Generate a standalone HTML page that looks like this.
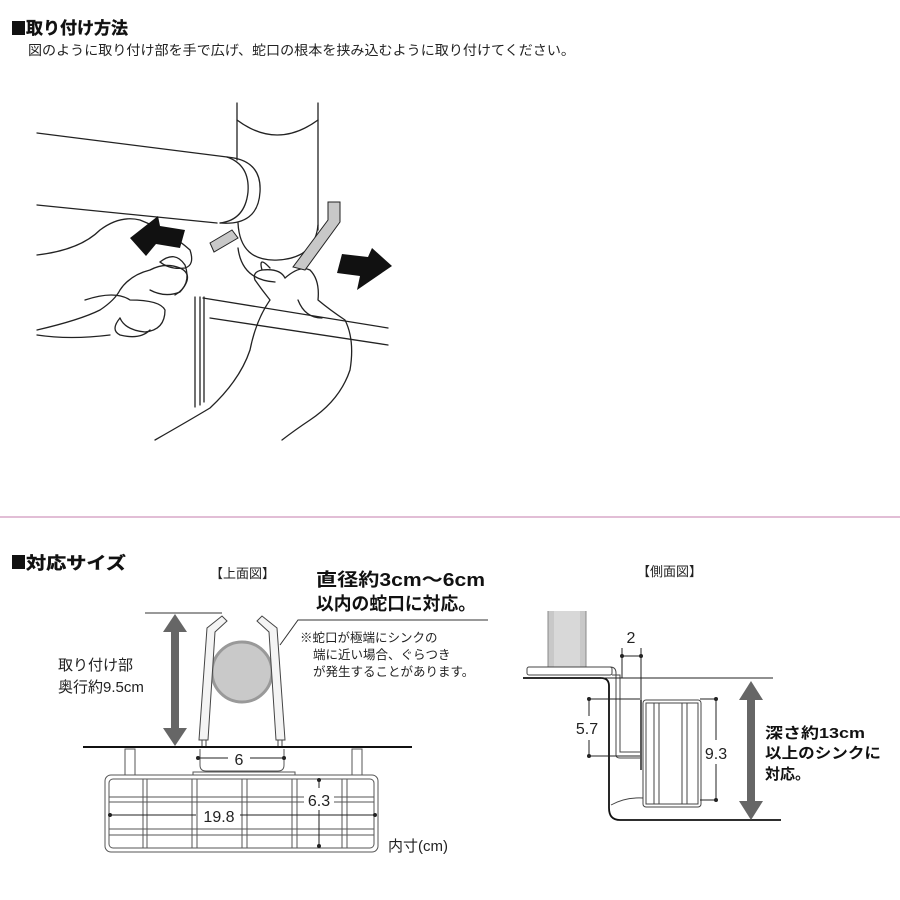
<!DOCTYPE html>
<html><head><meta charset="utf-8"><style>
html,body{margin:0;padding:0;background:#fff;}
svg{display:block;font-family:"Liberation Sans","Noto Sans CJK JP",sans-serif;}
</style></head><body>
<svg width="900" height="900" viewBox="0 0 900 900" xmlns="http://www.w3.org/2000/svg">
<rect width="900" height="900" fill="#fff"/>
<!-- Header -->
<rect x="12" y="21" width="13" height="14" fill="#111"/>
<text x="26" y="34" font-size="17" font-weight="bold" fill="#111" stroke="#111" stroke-width="0.4" textLength="102" lengthAdjust="spacingAndGlyphs">取り付け方法</text>
<text x="28" y="55" font-size="13.5" fill="#222" textLength="547" lengthAdjust="spacingAndGlyphs">図のように取り付け部を手で広げ、蛇口の根本を挟み込むように取り付けてください。</text>

<!-- Illustration -->
<g fill="none" stroke="#222" stroke-width="1.3" stroke-linecap="round" stroke-linejoin="round">
  <path d="M237 103 L237 160 M318 103 L318 230"/>
  <path d="M237 120 Q277 150 318 120"/>
  <path d="M37 133 L227 157"/>
  <path d="M37 205 L217 223"/>
  <path d="M227 157 Q262 160 260 192 Q258 226 220 223"/>
  <path d="M227 157 Q250 165 248 192 Q245 220 220 223"/>
  <path d="M238 223 Q240 262 278 260 Q315 258 318 225"/>
  <path d="M238 248 Q242 280 275 282"/>
  <path d="M203 298 L388 328"/>
  <path d="M210 318 L388 345"/>
  <path d="M195 297 L195 407 M200 297 L200 405 M204 297 L204 402"/>
  <path d="M37 255 Q80 250 100 230 Q120 215 140 220 Q170 232 190 250 Q195 265 185 268 Q170 270 160 262"/>
  <path d="M37 330 Q80 320 100 310 Q115 300 120 290 Q130 275 150 270 Q165 262 180 268 Q195 275 180 292 Q165 298 150 290"/>
  <path d="M85 300 Q115 290 130 300 Q160 300 165 310 Q165 330 145 332 Q125 330 120 318"/>
  <path d="M120 318 Q110 330 120 335 Q140 340 150 330"/>
  <path d="M160 262 Q175 250 185 265 Q192 285 175 295"/>
  <path d="M37 335 Q70 340 110 335"/>
  <path d="M155 440 Q190 420 210 408 Q240 380 250 350 Q256 320 270 300 Q262 290 255 280 Q252 272 262 270 Q280 268 285 278"/>
  <path d="M285 278 Q300 265 310 270 Q320 280 318 300 Q330 310 345 320 Q355 340 350 370 Q340 400 310 420 Q295 430 282 440"/>
  <path d="M298 300 Q305 318 322 318"/>
  <path d="M262 270 Q258 255 270 268"/>
</g>
<polygon points="210,243 232,230 238,238 214,252" fill="#c8c8c8" stroke="#222" stroke-width="1"/>
<polygon points="328,202 340,202 340,222 305,270 293,267 328,220" fill="#c8c8c8" stroke="#222" stroke-width="1"/>
<polygon points="130,238 158,216 160,226 185,230 180,248 156,244 146,256" fill="#111"/>
<polygon points="392,266 372,248 368,257 342,254 337,273 360,276 357,290" fill="#111"/>

<line x1="0" y1="517" x2="900" y2="517" stroke="#d8a8c8" stroke-width="1.5"/>

<!-- Section 2 -->
<rect x="12" y="555" width="13" height="14" fill="#111"/>
<text x="26" y="569" font-size="17" font-weight="bold" fill="#111" stroke="#111" stroke-width="0.4" textLength="100" lengthAdjust="spacingAndGlyphs">対応サイズ</text>
<text x="210" y="578" font-size="13" fill="#222">【上面図】</text>
<text x="316" y="586" font-size="18" font-weight="bold" fill="#111" textLength="169" lengthAdjust="spacingAndGlyphs">直径約3cm〜6cm</text>
<text x="316" y="610" font-size="18" font-weight="bold" fill="#111" textLength="160" lengthAdjust="spacingAndGlyphs">以内の蛇口に対応。</text>
<text x="300" y="642" font-size="12.5" fill="#222">※蛇口が極端にシンクの</text>
<text x="313" y="659" font-size="12.5" fill="#222">端に近い場合、ぐらつき</text>
<text x="313" y="676" font-size="12.5" fill="#222">が発生することがあります。</text>
<text x="58" y="670" font-size="15" fill="#222">取り付け部</text>
<text x="58" y="692" font-size="15" fill="#222">奥行約9.5cm</text>

<g stroke="#333" fill="none" stroke-width="1">
  <line x1="145" y1="613" x2="222" y2="613"/>
  <path d="M280 645 L298 620 L488 620"/>
</g>
<g fill="#666">
  <rect x="171" y="628" width="8" height="104"/>
  <polygon points="175,614 187,632 163,632"/>
  <polygon points="175,746 187,728 163,728"/>
</g>
<circle cx="242" cy="672" r="30" fill="#c9c9c9" stroke="#999" stroke-width="3"/>
<g fill="#f4f4f4" stroke="#444" stroke-width="1">
  <polygon points="199,740 207,628 222,616 227,621 215,632 208,740"/>
  <polygon points="285,740 277,628 262,616 257,621 269,632 276,740"/>
</g>
<g stroke="#444" fill="none" stroke-width="1">
  <line x1="202" y1="740" x2="202" y2="748"/><line x1="206" y1="740" x2="206" y2="748"/>
  <line x1="278" y1="740" x2="278" y2="748"/><line x1="282" y1="740" x2="282" y2="748"/>
</g>
<line x1="83" y1="747" x2="412" y2="747" stroke="#111" stroke-width="2"/>
<g fill="#fff" stroke="#555" stroke-width="1">
  <rect x="125" y="749" width="10" height="46"/>
  <rect x="352" y="749" width="10" height="46"/>
  <path d="M200 749 L200 765 Q200 771 206 771 L278 771 Q284 771 284 765 L284 749"/>
  <rect x="193" y="772" width="102" height="4"/>
  <rect x="105" y="775" width="273" height="77" rx="6"/>
  <rect x="109" y="779" width="265" height="69" rx="4"/>
</g>
<g stroke="#555" stroke-width="1" fill="none">
  <line x1="109" y1="797" x2="374" y2="797"/><line x1="109" y1="802" x2="374" y2="802"/>
  <line x1="109" y1="829" x2="374" y2="829"/><line x1="109" y1="835" x2="374" y2="835"/>
  <line x1="143" y1="779" x2="143" y2="848"/><line x1="147" y1="779" x2="147" y2="848"/>
  <line x1="192" y1="779" x2="192" y2="848"/><line x1="197" y1="779" x2="197" y2="848"/>
  <line x1="242" y1="779" x2="242" y2="848"/><line x1="247" y1="779" x2="247" y2="848"/>
  <line x1="292" y1="779" x2="292" y2="848"/><line x1="297" y1="779" x2="297" y2="848"/>
  <line x1="342" y1="779" x2="342" y2="848"/><line x1="347" y1="779" x2="347" y2="848"/>
</g>
<rect x="222" y="750" width="32" height="16" fill="#fff"/>
<g stroke="#222" stroke-width="1">
  <line x1="198" y1="758" x2="228" y2="758"/><line x1="250" y1="758" x2="284" y2="758"/>
  <line x1="110" y1="815" x2="196" y2="815"/><line x1="240" y1="815" x2="375" y2="815"/>
  <line x1="319" y1="780" x2="319" y2="788"/><line x1="319" y1="810" x2="319" y2="846"/>
</g>
<rect x="198" y="806" width="42" height="18" fill="#fff"/>
<rect x="304" y="790" width="30" height="18" fill="#fff"/>
<g fill="#222"><circle cx="198" cy="758" r="2"/><circle cx="284" cy="758" r="2"/>
<circle cx="110" cy="815" r="2"/><circle cx="375" cy="815" r="2"/>
<circle cx="319" cy="780" r="2"/><circle cx="319" cy="846" r="2"/></g>
<text x="239" y="765" font-size="16" fill="#222" text-anchor="middle">6</text>
<text x="219" y="822" font-size="16" fill="#222" text-anchor="middle">19.8</text>
<text x="319" y="806" font-size="16" fill="#222" text-anchor="middle">6.3</text>
<text x="388" y="851" font-size="15" fill="#222">内寸(cm)</text>

<!-- Side view -->
<text x="637" y="576" font-size="13" fill="#222">【側面図】</text>
<rect x="548" y="611" width="38" height="56" fill="#c8c8c8"/>
<rect x="554" y="611" width="26" height="56" fill="#d8d8d8"/>
<line x1="548" y1="611" x2="548" y2="667" stroke="#888"/><line x1="586" y1="611" x2="586" y2="667" stroke="#888"/>
<rect x="527" y="667" width="85" height="8" rx="2" fill="#fff" stroke="#444" stroke-width="1"/>
<g fill="none" stroke="#444" stroke-width="1">
  <path d="M610 667 Q616 667 616 673 L616 755 Q616 758 620 758 L640 758"/>
  <path d="M612 675 L620 675 L620 752 L640 752"/>
  <rect x="643" y="700" width="58" height="107" rx="3"/>
  <rect x="646" y="703" width="52" height="101"/>
  <line x1="654" y1="703" x2="654" y2="804"/><line x1="659" y1="703" x2="659" y2="804"/>
  <line x1="682" y1="703" x2="682" y2="804"/><line x1="687" y1="703" x2="687" y2="804"/>
  <path d="M611 805 Q625 797 643 798"/>
</g>
<line x1="641" y1="700" x2="641" y2="770" stroke="#222" stroke-width="1.5"/>
<path d="M523 678 L601 678 Q609 678 609 686 L609 808 Q609 820 620 820 L781 820" fill="none" stroke="#111" stroke-width="1.8"/>
<line x1="601" y1="678" x2="773" y2="678" stroke="#222" stroke-width="1"/>
<g stroke="#222" stroke-width="1" fill="none">
  <line x1="622" y1="648" x2="622" y2="678"/><line x1="641" y1="648" x2="641" y2="700"/>
  <line x1="622" y1="656" x2="641" y2="656"/>
  <line x1="589" y1="699" x2="640" y2="699"/><line x1="589" y1="756" x2="640" y2="756"/>
  <line x1="589" y1="699" x2="589" y2="716"/><line x1="589" y1="740" x2="589" y2="756"/>
  <line x1="700" y1="699" x2="717" y2="699"/><line x1="700" y1="800" x2="717" y2="800"/>
  <line x1="716" y1="699" x2="716" y2="740"/><line x1="716" y1="764" x2="716" y2="800"/>
</g>
<g fill="#222"><circle cx="622" cy="656" r="2"/><circle cx="641" cy="656" r="2"/>
<circle cx="589" cy="699" r="2"/><circle cx="589" cy="756" r="2"/>
<circle cx="716" cy="699" r="2"/><circle cx="716" cy="800" r="2"/></g>
<text x="631" y="643" font-size="16" fill="#222" text-anchor="middle">2</text>
<text x="587" y="734" font-size="16" fill="#222" text-anchor="middle">5.7</text>
<text x="716" y="759" font-size="16" fill="#222" text-anchor="middle">9.3</text>
<g fill="#666">
  <rect x="747" y="696" width="8" height="108"/>
  <polygon points="751,681 763,700 739,700"/>
  <polygon points="751,820 763,801 739,801"/>
</g>
<text x="765" y="738" font-size="15" font-weight="bold" fill="#111" textLength="100" lengthAdjust="spacingAndGlyphs">深さ約13cm</text>
<text x="765" y="758" font-size="15" font-weight="bold" fill="#111" textLength="116" lengthAdjust="spacingAndGlyphs">以上のシンクに</text>
<text x="765" y="779" font-size="15" font-weight="bold" fill="#111">対応。</text>
</svg>
</body></html>
